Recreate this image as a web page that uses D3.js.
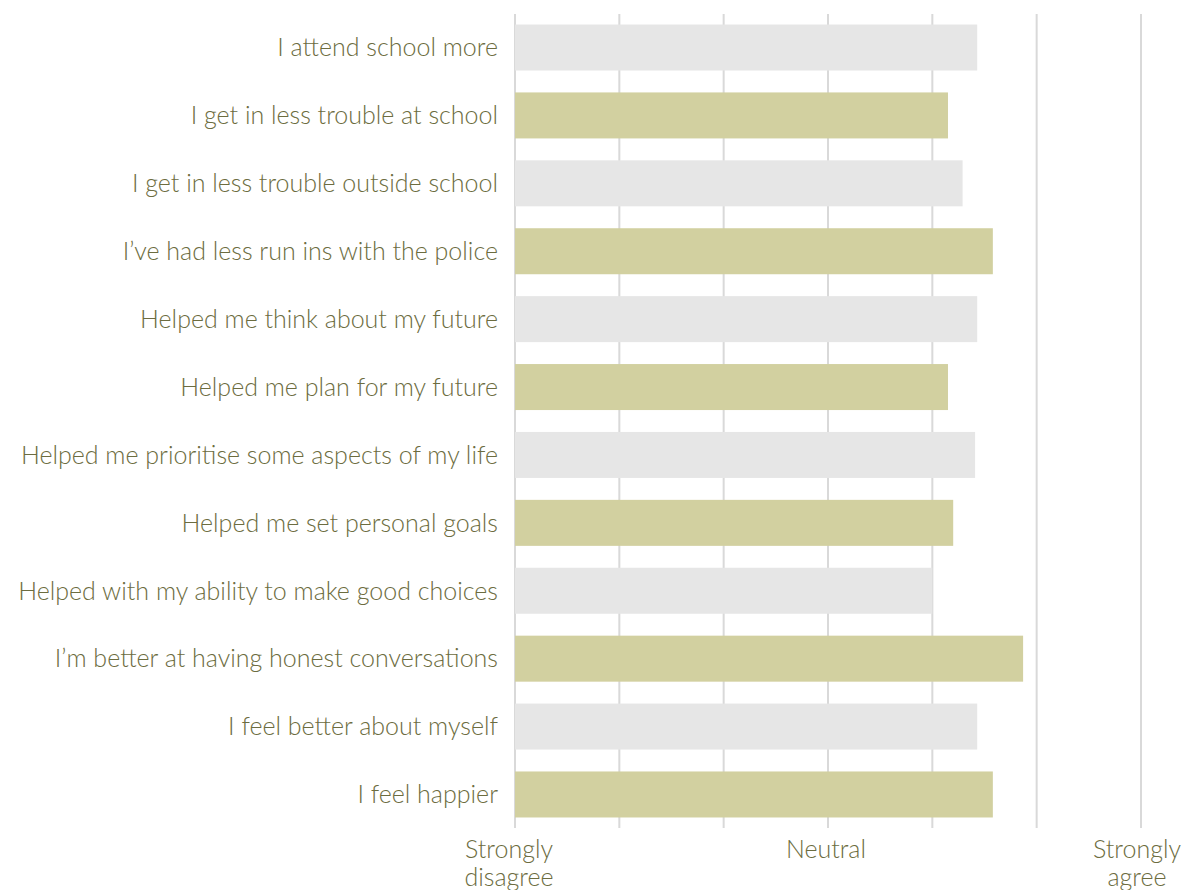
<!DOCTYPE html>
<html>
<head>
<meta charset="utf-8">
<script src="https://cdn.jsdelivr.net/npm/d3@7"></script>
<style>
  body { margin: 0; background: #fff; }
  .label { font-family: Lato, "Open Sans", sans-serif; font-weight: 300; font-size: 25px; fill: #6c6c40; }
</style>
</head>
<body>
<script>
// Statements and their average rating (1 = strongly disagree, 7 = strongly agree)
var statements = [
  "I attend school more",
  "I get in less trouble at school",
  "I get in less trouble outside school",
  "I\u2019ve had less run ins with the police",
  "Helped me think about my future",
  "Helped me plan for my future",
  "Helped me prioritise some aspects of my life",
  "Helped me set personal goals",
  "Helped with my ability to make good choices",
  "I\u2019m better at having honest conversations",
  "I feel better about myself",
  "I feel happier"
];
var ratings = [5.43, 5.15, 5.29, 5.58, 5.43, 5.15, 5.41, 5.2, 5.0, 5.87, 5.43, 5.58];
var scalePoints = [1, 2, 3, 4, 5, 6, 7];
var scaleLabels = { 1: ["Strongly", "disagree"], 4: ["Neutral"], 7: ["Strongly", "agree"] };

var svgWidth = 1191;
var svgHeight = 890;
var margin = { top: 14, right: 50, bottom: 62, left: 515 };

var chartWidth = svgWidth - margin.left - margin.right;
var chartHeight = svgHeight - margin.top - margin.bottom;

var svg = d3.select("body")
  .append("svg")
  .attr("width", svgWidth)
  .attr("height", svgHeight);

var chartGroup = svg.append("g")
  .attr("transform", `translate(${margin.left}, ${margin.top})`);

var xScale = d3.scaleLinear()
  .domain([1, 7])
  .range([0, 626]);

var yScale = d3.scaleBand()
  .domain(statements)
  .range([0, chartHeight])
  .paddingInner(0.3225)
  .paddingOuter(0.155);

// vertical grid lines
chartGroup.selectAll(".grid")
  .data(scalePoints)
  .enter()
  .append("line")
  .attr("x1", d => xScale(d))
  .attr("x2", d => xScale(d))
  .attr("y1", 0)
  .attr("y2", chartHeight)
  .attr("stroke", "#d9d9d9")
  .attr("stroke-width", 2);

// bars
chartGroup.selectAll(".bar")
  .data(ratings)
  .enter()
  .append("rect")
  .attr("x", xScale(1))
  .attr("y", (d, i) => yScale(statements[i]))
  .attr("width", d => xScale(d) - xScale(1))
  .attr("height", yScale.bandwidth())
  .attr("fill", (d, i) => i % 2 === 0 ? "#e6e6e6" : "#d2d0a0");

// category labels
chartGroup.selectAll(".cat")
  .data(statements)
  .enter()
  .append("text")
  .attr("class", "label")
  .attr("x", -17)
  .attr("y", d => yScale(d) + yScale.bandwidth() / 2)
  .attr("dy", "0.35em")
  .attr("text-anchor", "end")
  .text(d => d);

// scale labels under the chart
var tickGroup = chartGroup.selectAll(".tick-label")
  .data(Object.keys(scaleLabels))
  .enter()
  .append("text")
  .attr("class", "label")
  .attr("text-anchor", "middle")
  .attr("x", d => xScale(+d) - (d == 1 ? 6 : d == 7 ? 4 : 2))
  .attr("y", chartHeight + 30);

tickGroup.selectAll("tspan")
  .data(d => scaleLabels[d])
  .enter()
  .append("tspan")
  .attr("x", function() { return d3.select(this.parentNode).attr("x"); })
  .attr("dy", (d, i) => i === 0 ? 0 : 28)
  .text(d => d);
</script>
</body>
</html>
